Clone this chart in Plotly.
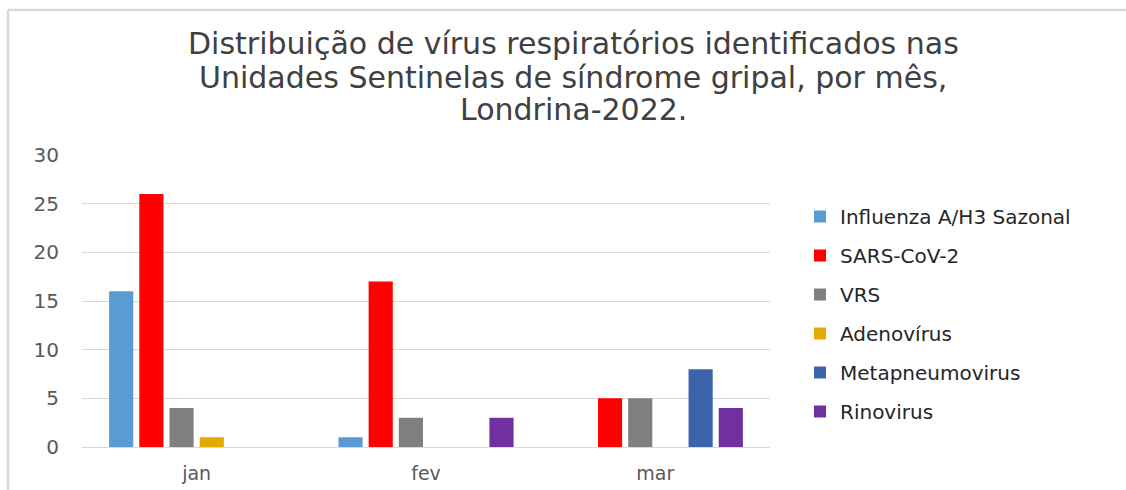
import plotly.graph_objects as go

months = ["jan", "fev", "mar"]
series_names = ["Influenza A/H3 Sazonal", "SARS-CoV-2", "VRS", "Adenovírus", "Metapneumovirus", "Rinovirus"]
influenza = [16, 1, 0]
sars_cov_2 = [26, 17, 5]
vrs = [4, 3, 5]
adenovirus = [1, 0, 0]
metapneumovirus = [0, 0, 8]
rinovirus = [0, 3, 4]
series_values = [influenza, sars_cov_2, vrs, adenovirus, metapneumovirus, rinovirus]
colors = ["#5B9BD5", "#FF0000", "#808080", "#E3AB00", "#3C64AD", "#7030A0"]
y_ticks = [0, 5, 10, 15, 20, 25, 30]
title_lines = ["Distribuição de vírus respiratórios identificados nas",
               "Unidades Sentinelas de síndrome gripal, por mês,",
               "Londrina-2022."]

FONT = "DejaVu Sans"
W, H = 1126, 490
L, R, T, B = 82, 356, 155, 43
pw, ph = W - L - R, H - T - B

fig = go.Figure()
for i, (name, vals) in enumerate(zip(series_names, series_values)):
    fig.add_trace(go.Bar(
        x=months, y=vals, name=name,
        marker=dict(color=colors[i], line=dict(width=0)),
        legendgroup=name,
    ))

def px_x(p):
    return (p - L) / pw

def px_y(p):
    return (H - B - p) / ph

title_centers_px = [44, 77, 110]
annotations = [
    dict(text=line, xref="paper", yref="paper", x=px_x(573), y=px_y(cy),
         xanchor="center", yanchor="middle", showarrow=False,
         font=dict(family=FONT, size=30, color="#404040"))
    for line, cy in zip(title_lines, title_centers_px)
]

fig.update_layout(
    width=W, height=H,
    margin=dict(l=L, r=R, t=T, b=B, autoexpand=False),
    paper_bgcolor="white", plot_bgcolor="white",
    barmode="group", bargap=0.21, bargroupgap=0.2,
    font=dict(family=FONT, color="#595959"),
    annotations=annotations,
    legend=dict(x=px_x(800), xanchor="left", y=px_y(197), yanchor="top",
                font=dict(family=FONT, size=20, color="#262626"),
                traceorder="grouped", tracegroupgap=10, itemwidth=30,
                bgcolor="rgba(0,0,0,0)"),
    xaxis=dict(showgrid=False, showline=False, ticks="", ticklabelstandoff=13,
               automargin=False, tickfont=dict(family=FONT, size=19, color="#595959")),
    yaxis=dict(range=[0, 30], tickvals=y_ticks, showgrid=True, gridcolor="#D9D9D9",
               gridwidth=1, zeroline=True, zerolinecolor="#D9D9D9", zerolinewidth=1,
               showline=False, ticks="", ticklabelstandoff=22, automargin=False,
               tickfont=dict(family=FONT, size=20, color="#595959")),
    shapes=[
        dict(type="line", xref="paper", yref="paper", x0=px_x(8), x1=px_x(1130),
             y0=px_y(10), y1=px_y(10), line=dict(color="#D9D9D9", width=2.5)),
        dict(type="line", xref="paper", yref="paper", x0=px_x(8), x1=px_x(8),
             y0=px_y(10), y1=px_y(495), line=dict(color="#D9D9D9", width=2.5)),
    ],
)

fig.write_html("out.html", config={"displayModeBar": False})

# remove default body margin so the figure sits at the page origin
with open("out.html", "r", encoding="utf-8") as f:
    html = f.read()
html = html.replace("<body>", '<body style="margin:0;padding:0;">', 1)
with open("out.html", "w", encoding="utf-8") as f:
    f.write(html)
